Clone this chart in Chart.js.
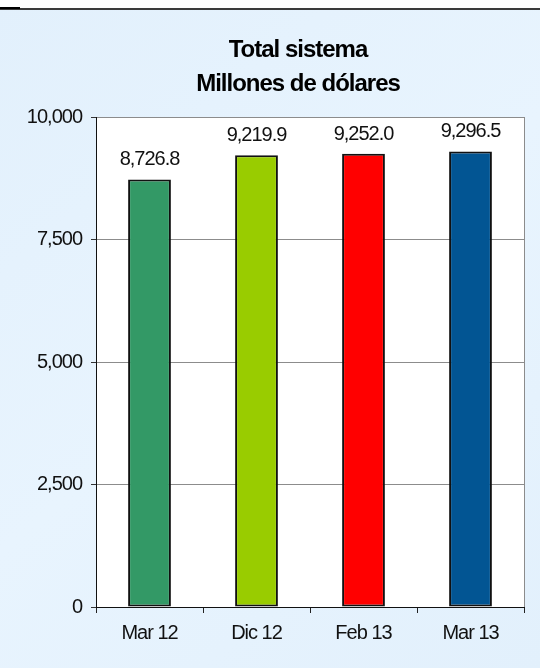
<!DOCTYPE html>
<html>
<head>
<meta charset="utf-8">
<script src="https://cdn.jsdelivr.net/npm/chart.js@4"></script>
<style>
  html, body { margin: 0; padding: 0; background: #fff; }
  #chart { display: block; }
</style>
</head>
<body>
<canvas id="chart" width="540" height="668"></canvas>
<script>
const categories = ['Mar 12', 'Dic 12', 'Feb 13', 'Mar 13']
const values = [8726.8, 9219.9, 9252.0, 9296.5]
const barColors = ['#339966', '#99cc00', '#ff0000', '#025593']
const titleLines = ['Total sistema', 'Millones de dólares']
const yTicks = { min: 0, max: 10000, step: 2500 }

const font = '"Liberation Sans", Arial, sans-serif'

const fmt = (v, d) => v.toLocaleString('en-US', { minimumFractionDigits: d, maximumFractionDigits: d })

// background, frame line, plot fill, title, value labels
const decor = {
  id: 'decor',
  beforeDraw(chart) {
    const { ctx, width, height, chartArea: a } = chart
    ctx.save()
    ctx.fillStyle = '#ffffff'
    ctx.fillRect(0, 0, width, height)
    const g = ctx.createLinearGradient(0, 0, width, height)
    g.addColorStop(0, '#e2f0fc')
    g.addColorStop(0.5, '#e8f4fe')
    g.addColorStop(1, '#e2f0fc')
    ctx.fillStyle = g
    ctx.fillRect(0, 10, width, height - 10)
    ctx.fillStyle = '#3a3a3a'
    ctx.fillRect(0, 8, width, 2)
    ctx.fillStyle = '#000'
    ctx.fillRect(0, 7, 20, 2)
    ctx.fillStyle = '#ffffff'
    ctx.fillRect(a.left, a.top, a.right - a.left, a.bottom - a.top)
    ctx.restore()
    // the original text is narrow, tighten it
    ctx.letterSpacing = '-1px'
  },
  afterDraw(chart) {
    const { ctx, chartArea: a } = chart
    ctx.save()
    ctx.strokeStyle = '#8c8c8c'
    ctx.lineWidth = 1
    ctx.beginPath()
    ctx.moveTo(Math.round(a.right) + 0.5, a.top)
    ctx.lineTo(Math.round(a.right) + 0.5, a.bottom)
    ctx.stroke()

    ctx.letterSpacing = '-1px'
    ctx.fillStyle = '#000'
    ctx.textAlign = 'center'
    ctx.textBaseline = 'alphabetic'
    ctx.font = 'bold 24px ' + font
    ctx.fillText(titleLines[0], 298, 57)
    ctx.fillText(titleLines[1], 298, 91)

    ctx.font = '20px ' + font
    ctx.fillStyle = '#111'
    const meta = chart.getDatasetMeta(0)
    meta.data.forEach((bar, i) => {
      ctx.fillText(fmt(values[i], 1), bar.x, bar.y - 14)
    })
    ctx.restore()
    ctx.letterSpacing = '0px'
  },
}

new Chart(document.getElementById('chart'), {
  type: 'bar',
  data: {
    labels: categories,
    datasets: [
      {
        data: values,
        backgroundColor: barColors,
        borderColor: '#111',
        borderWidth: 2,
        borderSkipped: false,
        barPercentage: 0.4,
        categoryPercentage: 1,
      },
    ],
  },
  options: {
    responsive: false,
    animation: false,
    layout: { padding: { top: 117, right: 16, left: 0, bottom: 0 } },
    plugins: {
      legend: { display: false },
      title: { display: false },
      tooltip: { enabled: false },
    },
    scales: {
      x: {
        offset: true,
        afterFit(scale) { scale.height = 61 },
        grid: {
          offset: true,
          drawOnChartArea: false,
          drawTicks: true,
          tickLength: 6,
          tickColor: '#222',
        },
        border: { color: '#111', width: 1 },
        ticks: {
          color: '#111',
          padding: 8,
          font: { family: font, size: 20 },
        },
      },
      y: {
        min: yTicks.min,
        max: yTicks.max,
        afterFit(scale) { scale.width = 96 },
        grid: {
          color: '#8c8c8c',
          tickColor: '#333',
          tickLength: 5,
        },
        border: { color: '#111', width: 1 },
        ticks: {
          stepSize: yTicks.step,
          color: '#111',
          padding: 9,
          font: { family: font, size: 20 },
          callback: (v) => fmt(v, 0),
        },
      },
    },
  },
  plugins: [decor],
})
</script>
</body>
</html>
